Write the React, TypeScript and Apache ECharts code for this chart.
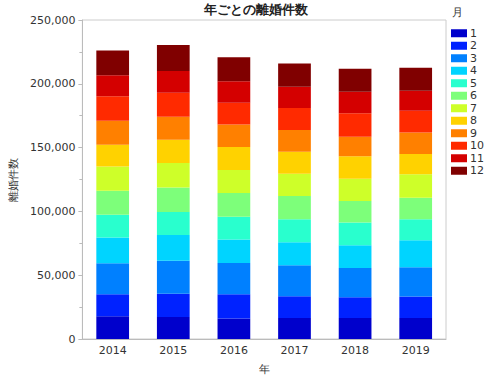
import React, { useEffect, useRef } from "react";
import * as echarts from "echarts";

const years = ["2014", "2015", "2016", "2017", "2018", "2019"];
const months = ["1", "2", "3", "4", "5", "6", "7", "8", "9", "10", "11", "12"];
// monthly divorce counts per year (rows: month 1..12, cols: year)
const m1 = [17800, 17260, 16020, 16490, 16490, 16490];
const m2 = [17260, 18110, 19040, 17020, 16250, 16790];
const m3 = [24310, 26010, 24540, 24310, 22990, 22990];
const m4 = [20120, 20120, 18340, 18030, 17800, 21130];
const m5 = [17800, 18110, 17800, 18040, 17800, 16490];
const m6 = [18960, 19040, 18660, 18110, 16800, 16790];
const m7 = [18970, 19350, 17950, 17490, 17490, 18350];
const m8 = [17030, 18120, 18040, 17340, 17570, 15940];
const m9 = [18800, 18030, 17800, 17030, 15250, 16800];
const m10 = [19120, 18810, 17030, 17260, 18570, 17020];
const m11 = [16490, 17030, 16790, 16480, 16720, 15720];
const m12 = [19340, 20430, 18810, 18350, 18110, 18110];
const monthData = [m1, m2, m3, m4, m5, m6, m7, m8, m9, m10, m11, m12];
const colors = [
  "#0000cc", "#0022ff", "#0080ff", "#00d4ff", "#29ffce", "#7dff7a",
  "#ceff29", "#ffd200", "#ff8000", "#ff2a00", "#d40000", "#800000",
];
const yTicks = [0, 50000, 100000, 150000, 200000, 250000];

const FONT = "DejaVu Sans, Verdana, sans-serif";

export default function App() {
  const ref = useRef<HTMLDivElement>(null);
  useEffect(() => {
    document.body.style.margin = "0";
    const chart = echarts.init(ref.current!, null, { renderer: "svg" });
    chart.setOption({
      animation: false,
      textStyle: { fontFamily: FONT },
      title: {
        text: "年ごとの離婚件数",
        left: 256,
        textAlign: "center",
        top: 3,
        padding: 0,
        textStyle: { fontSize: 13, fontWeight: "bold", color: "#222", fontFamily: FONT },
      },
      graphic: [
        {
          type: "text",
          left: 452,
          top: 7,
          style: { text: "月", fontSize: 11, fill: "#333", fontFamily: FONT },
        },
      ],
      legend: {
        orient: "vertical",
        left: 451,
        top: 27,
        padding: 0,
        itemWidth: 16,
        itemHeight: 8,
        itemGap: 0,
        icon: "rect",
        data: months,
        textStyle: { fontSize: 11, color: "#333", lineHeight: 12.5, padding: [0, 0, 0, -2] },
      },
      grid: {
        left: 68,
        right: 54,
        top: 20,
        bottom: 37,
        show: true,
        borderColor: "#ccc",
        borderWidth: 1,
      },
      xAxis: {
        type: "category",
        data: years,
        name: "年",
        nameLocation: "middle",
        nameGap: 25,
        nameTextStyle: { fontSize: 11, color: "#333" },
        axisLine: { lineStyle: { color: "#bbb" } },
        axisTick: { show: false },
        axisLabel: { fontSize: 11, color: "#333", margin: 6 },
      },
      yAxis: {
        type: "value",
        min: 0,
        max: yTicks[yTicks.length - 1],
        interval: 50000,
        name: "離婚件数",
        nameLocation: "middle",
        nameGap: 58,
        nameTextStyle: { fontSize: 11, color: "#333", padding: [0, 0, 0, 0] },
        axisLine: { show: true, lineStyle: { color: "#bbb" } },
        axisTick: { show: true, length: 4, lineStyle: { color: "#bbb" } },
        minorTick: { show: true, splitNumber: 2, length: 3, lineStyle: { color: "#bbb" } },
        splitLine: { show: false },
        axisLabel: {
          fontSize: 11,
          color: "#333",
          margin: 7,
          formatter: (v: number) => v.toLocaleString("en-US"),
        },
      },
      series: monthData.map((d, i) => ({
        name: months[i],
        type: "bar",
        stack: "total",
        data: d,
        barWidth: "54%",
        itemStyle: { color: colors[i] },
      })),
    });
    return () => chart.dispose();
  }, []);
  return <div ref={ref} style={{ width: 500, height: 380 }} />;
}
